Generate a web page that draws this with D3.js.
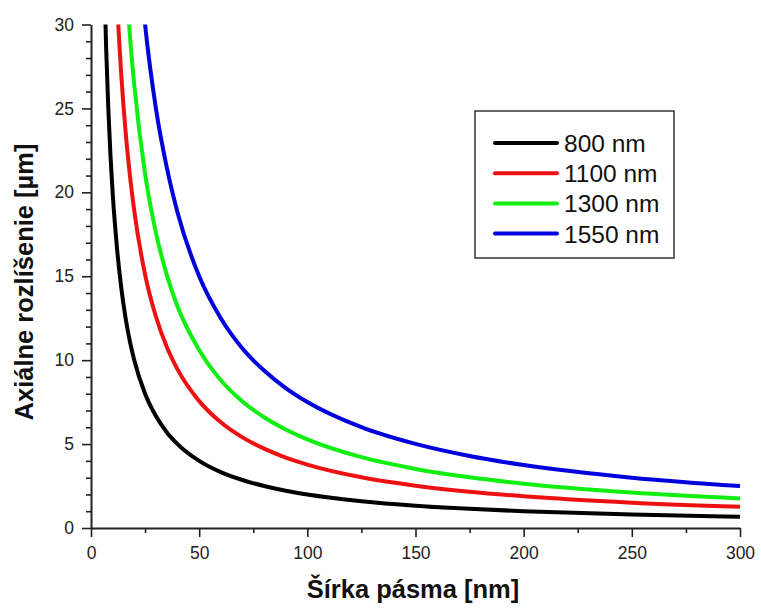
<!DOCTYPE html>
<html><head><meta charset="utf-8">
<script src="https://cdn.jsdelivr.net/npm/d3@7"></script>
<style>body{margin:0;background:#fff}svg{display:block}text{font-family:"Liberation Sans",Arial,sans-serif}</style>
</head><body>
<svg id="c" width="761" height="610"></svg>
<script>
const bandwidth = [6,7,8,9,10,12,14,16,18,20,25,30,35,40,50,60,70,80,90,100,125,150,175,200,250,300];
const res800  = [33.3,28.6,25.0,22.2,20.0,16.7,14.3,12.5,11.1,10.0,8.0,6.67,5.71,5.0,4.0,3.33,2.86,2.5,2.22,2.0,1.6,1.33,1.14,1.0,0.8,0.67];
const res1100 = [63.0,54.0,47.3,42.0,37.8,31.5,27.0,23.6,21.0,18.9,15.1,12.6,10.8,9.45,7.56,6.30,5.40,4.73,4.20,3.78,3.02,2.52,2.16,1.89,1.51,1.26];
const res1300 = [88.0,75.4,66.0,58.7,52.8,44.0,37.7,33.0,29.3,26.4,21.1,17.6,15.1,13.2,10.6,8.80,7.54,6.60,5.87,5.28,4.22,3.52,3.02,2.64,2.11,1.76];
const res1550 = [125,107,93.8,83.4,75.1,62.6,53.6,46.9,41.7,37.5,30.0,25.0,21.5,18.8,15.0,12.5,10.7,9.38,8.34,7.51,6.01,5.01,4.29,3.75,3.00,2.50];
const seriesNames = ["800 nm","1100 nm","1300 nm","1550 nm"];
const seriesColors = ["#000000","#ee1111","#11ee11","#0000dd"];
const xTicks = [0,50,100,150,200,250,300];
const yTicks = [0,5,10,15,20,25,30];

const series = [res800,res1100,res1300,res1550];
const svg = d3.select("#c");
const x = d3.scaleLinear().domain([0,300]).range([91,740]);
const y = d3.scaleLinear().domain([0,30]).range([528,24.5]);

svg.append("clipPath").attr("id","clip").append("rect")
  .attr("x",x(0)).attr("y",y(30)).attr("width",x(300)-x(0)+3).attr("height",y(0)-y(30));

const line = d3.line().x((d,i)=>x(bandwidth[i])).y(d=>y(d)).curve(d3.curveMonotoneX);
const g = svg.append("g").attr("clip-path","url(#clip)");
series.forEach((s,i)=>{
  g.append("path").datum(s).attr("d",line).attr("fill","none")
   .attr("stroke",seriesColors[i]).attr("stroke-width",4).attr("stroke-linejoin","round");
});

const axColor = "#222";
// x axis
svg.append("g").attr("transform",`translate(0,${y(0)})`)
  .call(d3.axisBottom(x).tickValues(xTicks).tickSize(9).tickPadding(10).tickSizeOuter(0));
svg.append("g").attr("transform",`translate(0,${y(0)})`)
  .call(d3.axisBottom(x).tickValues(d3.range(25,300,50)).tickSize(5).tickFormat("").tickSizeOuter(0))
  .select(".domain").remove();
// y axis
svg.append("g").attr("transform",`translate(${x(0)},0)`)
  .call(d3.axisLeft(y).tickValues(yTicks).tickSize(9).tickPadding(8).tickSizeOuter(0));
svg.append("g").attr("transform",`translate(${x(0)},0)`)
  .call(d3.axisLeft(y).tickValues(d3.range(1,30,1).filter(v=>v%5)).tickSize(5).tickFormat("").tickSizeOuter(0))
  .select(".domain").remove();
svg.selectAll(".domain").attr("stroke",axColor).attr("stroke-width",2);
svg.selectAll(".tick line").attr("stroke",axColor).attr("stroke-width",1.6);
svg.selectAll(".tick text").attr("font-size",17.5).attr("fill","#222")
  .attr("font-family","'Liberation Sans',Arial,sans-serif");

// axis titles
svg.append("text").attr("x",413).attr("y",598).attr("text-anchor","middle")
  .attr("font-size",25.5).attr("font-weight","bold").attr("fill","#111").text("Šírka pásma [nm]");
svg.append("text").attr("transform","translate(33,282) rotate(-90)").attr("text-anchor","middle")
  .attr("font-size",25.5).attr("font-weight","bold").attr("fill","#111").text("Axiálne rozlíšenie [µm]");

// legend
const lg = svg.append("g");
lg.append("rect").attr("x",475).attr("y",111).attr("width",199).attr("height",147)
  .attr("fill","#fff").attr("stroke","#333").attr("stroke-width",1.5);
seriesNames.forEach((n,i)=>{
  const cy = 143 + i*30.2;
  lg.append("line").attr("x1",495).attr("x2",557).attr("y1",cy).attr("y2",cy)
    .attr("stroke",seriesColors[i]).attr("stroke-width",4).attr("stroke-linecap","round");
  lg.append("text").attr("x",564).attr("y",cy+9).attr("font-size",24.5).attr("fill","#111").text(n);
});
</script>
</body></html>
